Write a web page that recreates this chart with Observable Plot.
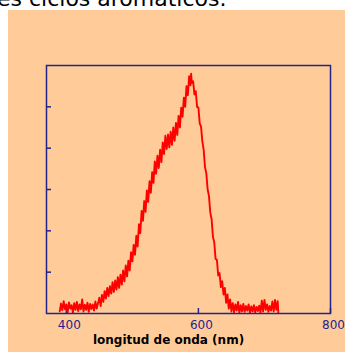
<!DOCTYPE html>
<html>
<head>
<meta charset="utf-8">
<script src="https://cdn.jsdelivr.net/npm/d3@7"></script>
<script src="https://cdn.jsdelivr.net/npm/@observablehq/plot@0.6"></script>
<style>
  html, body { margin: 0; padding: 0; background: #ffffff; width: 345px; height: 352px; overflow: hidden; }
  body { position: relative; font-family: "DejaVu Sans", Verdana, sans-serif; }
  #caption { position: absolute; left: -3px; top: -12px; font-size: 22px; line-height: 22px; color: #000; white-space: nowrap; }
  #panel { position: absolute; left: 8px; top: 10px; width: 337px; height: 342px; background: #ffcc99; }
</style>
</head>
<body>
<div id="caption"></div>
<div id="panel"></div>
<script>
const captionText = "es ciclos aromáticos.";
const xTitle = "longitud de onda (nm)";
const xDomain = [370, 800];
const yDomain = [0, 6];
const xTicks = [400, 600, 800];
const yTicks = [1, 2, 3, 4, 5];

// [wavelength nm, intensity]
const baselineLeft = [
  [390,0.05],[392,0.24],[394,0.08],[396,0.30],[398,0.10],[400,0.22],[402,0.03],[404,0.27],
  [406,0.12],[408,0.20],[410,0.02],[412,0.25],[414,0.09],[416,0.28],[418,0.06],[420,0.22],
  [422,0.10],[424,0.34],[426,0.05],[428,0.21],[430,0.09],[432,0.26],[434,0.04],[436,0.23],
  [438,0.11],[440,0.22],[442,0.07],[444,0.29],[446,0.12],[448,0.25]
];
const risingEdge = [
  [450,0.38],[452,0.18],[454,0.45],[456,0.28],[458,0.54],[460,0.36],[462,0.62],[464,0.42],
  [466,0.66],[468,0.48],[470,0.76],[472,0.52],[474,0.80],[476,0.58],[478,0.88],[480,0.62],
  [482,0.94],[484,0.70],[486,1.04],[488,0.78],[490,1.16],[492,0.90],[494,1.28],[496,1.04],
  [498,1.48],[500,1.26],[502,1.66],[504,1.42],[506,1.88],[508,1.62],[510,2.16],[512,1.94],
  [514,2.48],[516,2.24],[518,2.72],[520,2.46],[522,2.98],[524,2.70],[526,3.20],[528,2.92],
  [530,3.42],[532,3.16],[534,3.68],[536,3.38],[538,3.82],[540,3.52],[542,3.96],[544,3.66],
  [546,4.14],[548,3.86],[550,4.30],[552,3.98],[554,4.33],[556,4.02],[558,4.40],[560,4.08],
  [562,4.50],[564,4.18],[566,4.61],[568,4.32],[570,4.78],[572,4.50],[574,4.98],[576,4.76],
  [578,5.22],[580,5.00],[582,5.50],[584,5.28],[586,5.74],[588,5.52],[589,5.80]
];
const fallingEdge = [
  [590,5.58],[592,5.62],[594,5.30],[596,5.38],[598,5.00],[600,4.98],[602,4.60],[604,4.52],
  [606,4.16],[608,3.96],[610,3.54],[612,3.39],[614,3.00],[616,2.84],[618,2.44],[620,2.28],
  [622,1.86],[624,1.72],[626,1.32],[628,1.30],[630,0.92],[632,0.98],[634,0.64],[636,0.78],
  [638,0.46],[640,0.62],[642,0.26],[644,0.46],[646,0.12],[648,0.34]
];
const baselineRight = [
  [650,0.05],[652,0.25],[654,0.03],[656,0.22],[658,0.07],[660,0.28],[662,0.02],[664,0.20],
  [666,0.05],[668,0.23],[670,0.04],[672,0.18],[674,0.07],[676,0.22],[678,0.02],[680,0.17],
  [682,0.05],[684,0.20],[686,0.03],[688,0.16],[690,0.06],[692,0.19],[694,0.02],[696,0.31],
  [698,0.05],[700,0.33],[702,0.09],[704,0.22],[706,0.04],[708,0.18],[710,0.07],[712,0.29],
  [714,0.05],[716,0.33],[718,0.09],[720,0.30],[721,0.02]
];

const spectrum = [...baselineLeft, ...risingEdge, ...fallingEdge, ...baselineRight]
  .map(([nm, v]) => ({nm, v}));

document.getElementById("caption").textContent = captionText;

const navy = "#23238c";
const W = 337, H = 342;
const mL = 38, mR = 15, mT = 55, mB = 39;
const innerW = W - mL - mR, innerH = H - mT - mB;

const chart = Plot.plot({
  width: W,
  height: H,
  marginLeft: mL,
  marginRight: mR,
  marginTop: mT,
  marginBottom: mB,
  style: {background: "transparent", fontFamily: "DejaVu Sans, Verdana, sans-serif", overflow: "visible"},
  x: {domain: xDomain},
  y: {domain: yDomain},
  marks: [
    Plot.axisX({ticks: xTicks, tickSize: 0, tickPadding: 7, dx: 3, fontSize: 12, fill: navy, label: null}),
    Plot.axisY({ticks: [], label: null}),
    Plot.tickY(yTicks, {y: d => d, stroke: navy, strokeWidth: 1.5, insetRight: innerW - 5}),
    Plot.tickX(xTicks, {x: d => d, stroke: navy, strokeWidth: 1.5, insetTop: innerH - 5}),
    Plot.line(spectrum, {x: "nm", y: "v", stroke: "#ff0000", strokeWidth: 1.9}),
    Plot.frame({stroke: navy, strokeWidth: 1.5}),
    Plot.text([xTitle], {frameAnchor: "bottom", dx: -20, dy: 30, fontSize: 12, fontWeight: "bold", fill: "#000"})
  ]
});
document.getElementById("panel").appendChild(chart);
</script>
</body>
</html>
